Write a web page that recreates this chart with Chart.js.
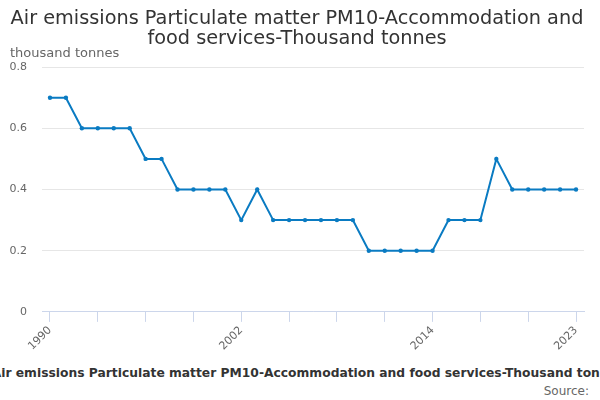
<!DOCTYPE html>
<html>
<head>
<meta charset="utf-8">
<script src="https://cdn.jsdelivr.net/npm/chart.js@4"></script>
<style>
  html, body { margin: 0; padding: 0; background: #fff; }
  #wrap { position: relative; width: 600px; height: 400px; overflow: hidden; font-family: "DejaVu Sans", sans-serif; }
  #box { position: absolute; left: 0; top: 0; width: 600px; height: 355px; }
  #caption { position: absolute; left: -92px; width: 800px; top: 366px; text-align: center; white-space: nowrap;
             font-size: 12.3px; font-weight: bold; color: #333; }
  #source { position: absolute; right: 11px; top: 384px; font-size: 12px; color: #666; }
</style>
</head>
<body>
<div id="wrap">
  <div id="box"><canvas id="emissionsChart"></canvas></div>
  <div id="caption">Air emissions Particulate matter PM10-Accommodation and food services-Thousand tonnes</div>
  <div id="source">Source:</div>
</div>
<script>
const years = ['1990','1991','1992','1993','1994','1995','1996','1997','1998','1999','2000','2001',
    '2002','2003','2004','2005','2006','2007','2008','2009','2010','2011','2012','2013',
    '2014','2015','2016','2017','2018','2019','2020','2021','2022','2023'];
const pm10 = [0.7, 0.7, 0.6, 0.6, 0.6, 0.6, 0.5, 0.5, 0.4, 0.4, 0.4, 0.4,
    0.3, 0.4, 0.3, 0.3, 0.3, 0.3, 0.3, 0.3, 0.2, 0.2, 0.2, 0.2,
    0.2, 0.3, 0.3, 0.3, 0.5, 0.4, 0.4, 0.4, 0.4, 0.4];
const shownYears = ['1990', '2002', '2014', '2023'];
const yTicks = [0, 0.2, 0.4, 0.6, 0.8];

const lineColor = '#0a7bc2';
const axisColor = '#ccd6eb';

const config = {
    type: 'line',
    data: {
        labels: years,
        datasets: [{
            label: 'Thousand tonnes',
            data: pm10,
            borderColor: lineColor,
            backgroundColor: lineColor,
            borderWidth: 2,
            pointRadius: 2.2,
            pointBorderWidth: 0,
            pointHoverRadius: 3,
            tension: 0
        }]
    },
    options: {
        responsive: true,
        maintainAspectRatio: false,
        animation: false,
        layout: { padding: { left: 10, right: 16, top: 0, bottom: 0 } },
        plugins: {
            legend: { display: false },
            tooltip: { enabled: false },
            title: {
                display: true,
                text: ['Air emissions Particulate matter PM10-Accommodation and', 'food services-Thousand tonnes'],
                color: '#333333',
                font: { family: 'DejaVu Sans', size: 19.3, weight: 'normal', lineHeight: 1.05 },
                padding: { top: 9, bottom: -4 }
            },
            subtitle: {
                display: true,
                text: 'thousand tonnes',
                align: 'start',
                color: '#666666',
                font: { family: 'DejaVu Sans', size: 13 },
                padding: { top: 0, bottom: 6 }
            }
        },
        scales: {
            x: {
                offset: true,
                border: { display: true, color: axisColor, width: 1 },
                grid: {
                    offset: false,
                    drawOnChartArea: false,
                    drawTicks: true,
                    tickLength: 10,
                    color: ctx => (ctx.index % 3 === 0 ? axisColor : 'rgba(0,0,0,0)')
                },
                ticks: {
                    autoSkip: false,
                    minRotation: 45,
                    maxRotation: 45,
                    padding: 2,
                    color: '#666666',
                    font: { family: 'DejaVu Sans', size: 11 },
                    callback: function (value, index) {
                        const lab = years[index];
                        return shownYears.includes(lab) ? lab : '';
                    }
                },
                // rotated year labels may hang outside the plot, as in the original
                afterFit: axis => { axis.paddingLeft = 0; axis.paddingRight = 0; }
            },
            y: {
                min: 0,
                max: 0.8,
                border: { display: false },
                grid: { color: '#e6e6e6', drawTicks: false },
                afterBuildTicks: axis => { axis.ticks = yTicks.map(v => ({ value: v })); },
                afterFit: axis => { axis.width = 32; },
                ticks: {
                    padding: 15,
                    color: '#666666',
                    font: { family: 'DejaVu Sans', size: 11 },
                    callback: v => String(v)
                }
            }
        }
    }
};

const emissionsChart = new Chart(document.getElementById('emissionsChart'), config);
</script>
</body>
</html>
